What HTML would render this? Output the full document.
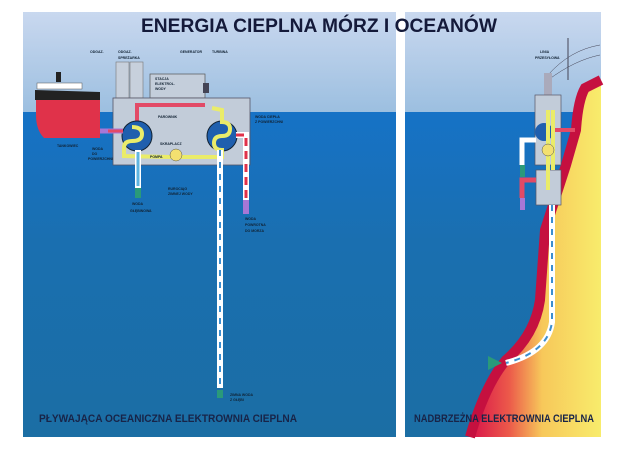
<!DOCTYPE html>
<html><head><meta charset="utf-8"><style>
html,body{margin:0;padding:0;background:#fff;width:640px;height:452px;overflow:hidden}
svg{display:block}
text{font-family:"Liberation Sans",sans-serif;font-weight:bold}
</style></head><body>
<svg width="640" height="452" viewBox="0 0 640 452">
<defs>
<linearGradient id="sky" x1="0" y1="0" x2="0" y2="1"><stop offset="0" stop-color="#c9d8ef"/><stop offset="1" stop-color="#9cbfe0"/></linearGradient>
<linearGradient id="sea" x1="0" y1="0" x2="0" y2="1"><stop offset="0" stop-color="#1672c6"/><stop offset="0.4" stop-color="#1a6fb0"/><stop offset="1" stop-color="#1b6ea4"/></linearGradient>
<linearGradient id="land" x1="0" y1="0" x2="1" y2="0"><stop offset="0" stop-color="#d8124a"/><stop offset="0.3" stop-color="#ec5a4a"/><stop offset="0.55" stop-color="#f7c85a"/><stop offset="1" stop-color="#f8ec6c"/></linearGradient>
</defs>
<rect width="640" height="452" fill="#fff"/>
<rect x="23" y="12" width="373" height="100" fill="url(#sky)"/>
<rect x="23" y="112" width="373" height="325" fill="url(#sea)"/>
<rect x="405" y="12" width="196" height="100" fill="url(#sky)"/>
<rect x="405" y="112" width="196" height="325" fill="url(#sea)"/>
<path d="M601,80 L585,88 Q578,100 576,130 L566,165 L545,230 L540,300 Q535,335 506,360 Q485,385 470,437 L601,437 Z" fill="url(#land)"/>
<path d="M601,80 L585,88 Q578,100 576,130 L566,165 L545,230 L540,300 Q535,335 506,360 Q485,385 470,437" fill="none" stroke="#c5103f" stroke-width="10"/>
<text x="319" y="32" font-size="19" text-anchor="middle" fill="#141a3a" textLength="356" lengthAdjust="spacingAndGlyphs">ENERGIA CIEPLNA MÓRZ I OCEANÓW</text>
<rect x="56" y="72" width="5" height="10" fill="#222"/>
<rect x="37" y="83" width="45" height="6" fill="#fff" stroke="#555" stroke-width="0.5"/>
<path d="M35,90 L100,92 L100,100 L35,100Z" fill="#222"/>
<path d="M36,100 L100,100 L100,138 L44,138 Q36,130 36,115Z" fill="#e0324a"/>
<rect x="116" y="62" width="13" height="36" fill="#c7d0dc" stroke="#777" stroke-width="0.6"/>
<rect x="130" y="62" width="13" height="36" fill="#c7d0dc" stroke="#777" stroke-width="0.6"/>
<rect x="150" y="74" width="55" height="24" fill="#c4cedb" stroke="#555" stroke-width="0.7"/>
<rect x="203" y="83" width="6" height="10" fill="#445" />
<rect x="208" y="98" width="40" height="3" fill="#345"/>
<rect x="113" y="98" width="137" height="67" fill="#c2ccd9" stroke="#556" stroke-width="0.8"/>
<path d="M137,130 L137,105 L205,105" fill="none" stroke="#e24a66" stroke-width="4"/>
<circle cx="137" cy="136" r="15" fill="#1f5fae" stroke="#123" stroke-width="1"/>
<circle cx="222" cy="136" r="15" fill="#1f5fae" stroke="#123" stroke-width="1"/>
<path d="M132,127 q10,0 10,7 q0,7 -10,7 q-8,0 -8,7 l0,8 L170,157 L222,157 L222,150 q-8,0 -8,-7 q0,-7 8,-7 q8,0 8,-7 q0,-7 -8,-7 L222,110 L212,108" fill="none" stroke="#eaec6a" stroke-width="4"/>
<circle cx="176" cy="155" r="6" fill="#f3e070" stroke="#555" stroke-width="0.5"/>
<path d="M100,131 L123,131" stroke="#a777d6" stroke-width="5"/>
<path d="M108,131 L123,131" stroke="#e24a66" stroke-width="3"/>
<rect x="135" y="150" width="6" height="38" fill="#fff"/><rect x="136.5" y="152" width="3" height="34" fill="#5fb5e0"/>
<rect x="135" y="188" width="6" height="10" fill="#2a9a7a"/>
<rect x="217" y="150" width="6" height="238" fill="#fff"/>
<line x1="220" y1="150" x2="220" y2="388" stroke="#3b8ed0" stroke-width="2" stroke-dasharray="6 6"/>
<rect x="217" y="390" width="6" height="8" fill="#2a9a7a"/>
<path d="M236,135 L246,135 L246,200" fill="none" stroke="#fff" stroke-width="6"/>
<path d="M236,135 L246,135 L246,200" fill="none" stroke="#e0324a" stroke-width="3" stroke-dasharray="8 5"/>
<rect x="243" y="200" width="6" height="14" fill="#a777d6"/>
<g font-size="3.5" fill="#123">
<text x="90" y="53">ODGAZ.</text><text x="118" y="53">ODGAZ.</text>
<text x="118" y="59">SPREŻARKA</text>
<text x="180" y="53">GENERATOR</text><text x="212" y="53">TURBINA</text>
<text x="155" y="80">STACJA</text><text x="155" y="85">ELEKTROL.</text><text x="155" y="90">WODY</text>
<text x="158" y="118">PAROWNIK</text><text x="160" y="145">SKRAPLACZ</text><text x="150" y="158">POMPA</text>
<text x="57" y="147">TANKOWIEC</text>
<text x="92" y="150">WODA</text><text x="92" y="155">DO</text><text x="88" y="160">POWIERZCHNI</text>
<text x="132" y="205">WODA</text><text x="130" y="212">GŁĘBINOWA</text>
<text x="168" y="190">RUROCIĄG</text><text x="168" y="195">ZIMNEJ WODY</text>
<text x="245" y="220">WODA</text><text x="245" y="226">POWROTNA</text><text x="245" y="232">DO MORZA</text>
<text x="255" y="118">WODA CIEPŁA</text><text x="255" y="123">Z POWIERZCHNI</text>
<text x="230" y="396">ZIMNA WODA</text><text x="230" y="401">Z GŁĘBI</text>
<text x="540" y="53">LINIA</text><text x="535" y="59">PRZESYŁOWA</text>
</g>
<line x1="568" y1="38" x2="568" y2="80" stroke="#445" stroke-width="1"/>
<path d="M548,75 Q570,50 600,45 M548,80 Q575,60 600,55" fill="none" stroke="#445" stroke-width="0.5"/>
<rect x="544" y="73" width="8" height="22" fill="#aab"/>
<rect x="535" y="95" width="26" height="70" fill="#c2ccd9" stroke="#556" stroke-width="0.7"/>
<rect x="536" y="170" width="25" height="35" fill="#c2ccd9" stroke="#556" stroke-width="0.7"/>
<circle cx="544" cy="132" r="9" fill="#1f5fae"/>
<path d="M548,110 L548,190 M553,110 L553,170" stroke="#eaec6a" stroke-width="4"/>
<circle cx="548" cy="150" r="6" fill="#f3e070" stroke="#555" stroke-width="0.5"/>
<path d="M555,130 L575,130" stroke="#e24a66" stroke-width="4"/>
<path d="M536,140 L522,140 L522,165" fill="none" stroke="#fff" stroke-width="5"/>
<rect x="520" y="165" width="5" height="12" fill="#2a9a7a"/>
<path d="M536,180 L522,180 L522,198" fill="none" stroke="#e24a66" stroke-width="5"/>
<rect x="520" y="198" width="5" height="12" fill="#a777d6"/>
<path d="M552,205 L552,322 Q548,352 506,363" fill="none" stroke="#fff" stroke-width="6"/>
<path d="M552,205 L552,322 Q548,352 506,363" fill="none" stroke="#3b8ed0" stroke-width="2" stroke-dasharray="6 6"/>
<path d="M488,356 L502,363 L488,370Z" fill="#2a9a7a"/>
<text x="39" y="422" font-size="11" fill="#182448" textLength="258" lengthAdjust="spacingAndGlyphs">PŁYWAJĄCA OCEANICZNA ELEKTROWNIA CIEPLNA</text>
<text x="414" y="422" font-size="11" fill="#182448" textLength="180" lengthAdjust="spacingAndGlyphs">NADBRZEŻNA ELEKTROWNIA CIEPLNA</text>
</svg>
</body></html>
